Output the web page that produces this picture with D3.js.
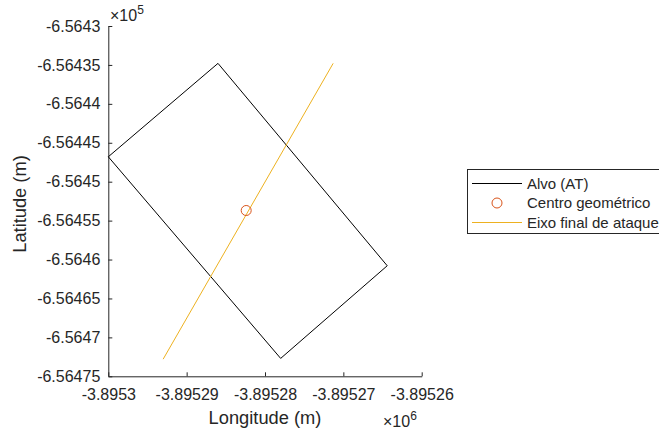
<!DOCTYPE html>
<html>
<head>
<meta charset="utf-8">
<script src="https://cdn.jsdelivr.net/npm/d3@7"></script>
<style>
  body { margin: 0; background: #fff; }
  text { font-family: "Liberation Sans", Arial, sans-serif; fill: #262626; }
</style>
</head>
<body>
<div id="chart"></div>
<script>
var width = 659;
var height = 434;

// target polygon (Alvo), closed
var alvoX = [-3895286.0, -3895264.4, -3895278.0, -3895300.0, -3895286.0];
var alvoY = [-656434.8, -656460.8, -656472.7, -656446.8, -656434.8];

// geometric centre
var centroX = [-3895282.4];
var centroY = [-656453.7];

// final attack axis
var eixoX = [-3895293.0, -3895271.3];
var eixoY = [-656472.8, -656434.8];

var xTicks = [-3895300, -3895290, -3895280, -3895270, -3895260];
var xTickLabels = ["-3.8953", "-3.89529", "-3.89528", "-3.89527", "-3.89526"];
var yTicks = [-656430, -656435, -656440, -656445, -656450, -656455, -656460, -656465, -656470, -656475];
var yTickLabels = ["-6.5643", "-6.56435", "-6.5644", "-6.56445", "-6.5645", "-6.56455", "-6.5646", "-6.56465", "-6.5647", "-6.56475"];

var legendNames = ["Alvo (AT)", "Centro geométrico", "Eixo final de ataque"];

var xScale = d3.scaleLinear().domain([-3895300, -3895260]).range([108.3, 421.7]);
var yScale = d3.scaleLinear().domain([-656475, -656430]).range([376.3, 26]);

var svg = d3.select("#chart").append("svg")
    .attr("width", width)
    .attr("height", height);

var xAxis = d3.axisBottom(xScale)
    .tickValues(xTicks)
    .tickSizeInner(-4).tickSizeOuter(0)
    .tickFormat(function(d, i) { return xTickLabels[i]; });
var yAxis = d3.axisLeft(yScale)
    .tickValues(yTicks)
    .tickSizeInner(-4).tickSizeOuter(0)
    .tickFormat(function(d, i) { return yTickLabels[i]; });

var gx = svg.append("g")
    .attr("transform", "translate(0," + yScale.range()[0] + ")")
    .call(xAxis);
var gy = svg.append("g")
    .attr("transform", "translate(" + xScale.range()[0] + ",0)")
    .call(yAxis);

[gx, gy].forEach(function(g) {
  g.select(".domain").attr("stroke", "#262626").attr("stroke-width", 1);
  g.selectAll(".tick line").attr("stroke", "#262626");
  g.selectAll(".tick text").attr("font-size", 16).attr("fill", "#262626")
    .style("font-family", "'Liberation Sans', Arial, sans-serif");
});
gx.selectAll(".tick text").attr("y", 12).attr("dy", "0.71em");
gy.selectAll(".tick text").attr("x", -8);

var line = d3.line()
    .x(function(d) { return xScale(d[0]); })
    .y(function(d) { return yScale(d[1]); });

svg.append("path")
    .attr("d", line(d3.zip(alvoX, alvoY)))
    .attr("fill", "none")
    .attr("stroke", "#000")
    .attr("stroke-width", 1);

svg.append("path")
    .attr("d", line(d3.zip(eixoX, eixoY)))
    .attr("fill", "none")
    .attr("stroke", "#EDB120")
    .attr("stroke-width", 1);

svg.selectAll(".centro")
    .data(d3.zip(centroX, centroY))
    .enter().append("circle")
    .attr("cx", function(d) { return xScale(d[0]); })
    .attr("cy", function(d) { return yScale(d[1]); })
    .attr("r", 5)
    .attr("fill", "none")
    .attr("stroke", "#D95319")
    .attr("stroke-width", 1);

// axis labels
svg.append("text")
    .attr("x", 265).attr("y", 424)
    .attr("text-anchor", "middle")
    .attr("font-size", 18.3)
    .text("Longitude (m)");

svg.append("text")
    .attr("transform", "translate(26,204) rotate(-90)")
    .attr("text-anchor", "middle")
    .attr("font-size", 18.3)
    .text("Latitude (m)");

// exponent multipliers
var ey = svg.append("text").attr("x", 110).attr("y", 21).attr("font-size", 16);
ey.append("tspan").text("\u00d710");
ey.append("tspan").attr("font-size", 12).attr("dy", -7).text("5");

var ex = svg.append("text").attr("x", 383).attr("y", 427).attr("font-size", 16);
ex.append("tspan").text("\u00d710");
ex.append("tspan").attr("font-size", 12).attr("dy", -7).text("6");

// legend
var leg = svg.append("g").attr("transform", "translate(467,169)");
leg.append("rect")
    .attr("x", 0.5).attr("y", 0.5)
    .attr("width", 230).attr("height", 64)
    .attr("fill", "#fff")
    .attr("stroke", "#262626")
    .attr("stroke-width", 1);

var rowY = [14.5, 34, 53.5];
leg.append("line").attr("x1", 5).attr("x2", 55).attr("y1", rowY[0]).attr("y2", rowY[0])
    .attr("stroke", "#000");
leg.append("circle").attr("cx", 30).attr("cy", rowY[1]).attr("r", 5)
    .attr("fill", "none").attr("stroke", "#D95319");
leg.append("line").attr("x1", 5).attr("x2", 55).attr("y1", rowY[2]).attr("y2", rowY[2])
    .attr("stroke", "#EDB120");

leg.selectAll(".lt")
    .data(legendNames)
    .enter().append("text")
    .attr("x", 60)
    .attr("y", function(d, i) { return rowY[i]; })
    .attr("dy", "0.35em")
    .attr("font-size", 15)
    .text(function(d) { return d; });
</script>
</body>
</html>
